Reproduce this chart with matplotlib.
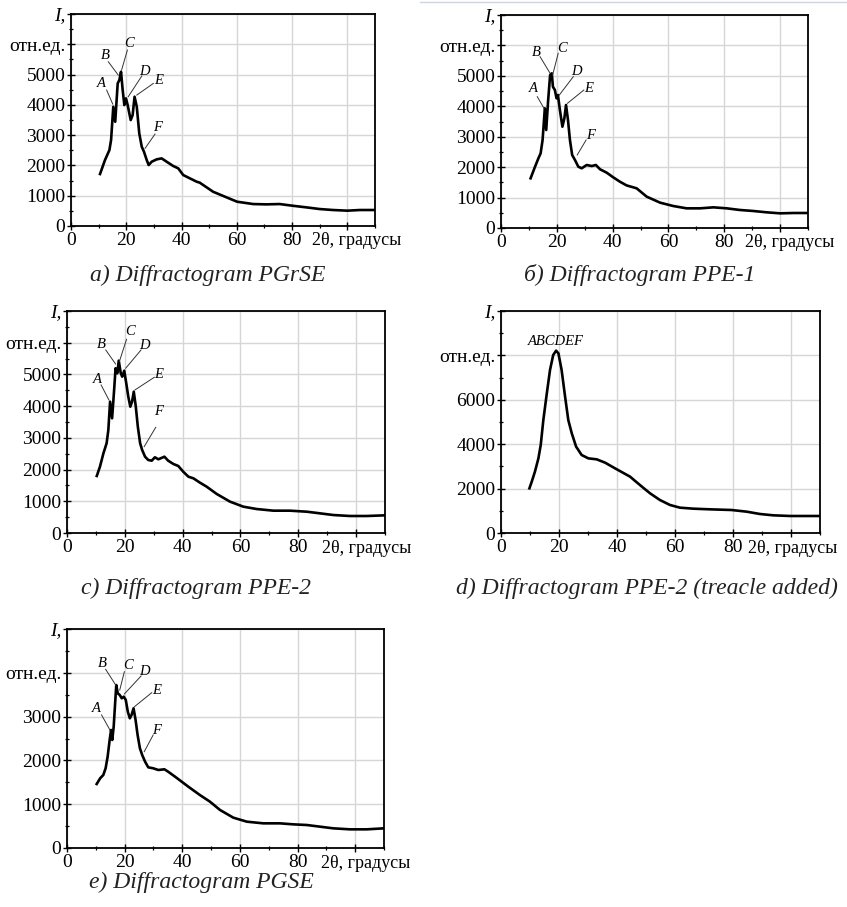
"""
Five X-ray diffractograms laid out as in the paper figure
"""

import numpy as np
import matplotlib.pyplot as plt
from matplotlib.lines import Line2D
from matplotlib.ticker import MultipleLocator
import matplotlib.transforms as mtransforms

plt.rcParams['font.family'] = ['Liberation Serif', 'DejaVu Serif']

# --- a) PGrSE ---
a_x = [10.5, 12.3, 13.9, 14.5, 15.3, 16.0, 16.9, 17.5, 18.1, 18.7, 19.3, 19.9, 20.5,
       21.6, 22.3, 23.0, 23.8, 24.7, 25.6, 26.4, 27.4, 28.1, 29.2, 31.0, 32.8, 34.6,
       37.0, 38.8, 40.6, 43.0, 45.5, 46.6, 51.4, 56.3, 60.1, 65.9, 70.7, 75.5, 80.1,
       85.2, 90.0, 94.8, 100.0, 104.5, 110.0]
a_y = [1716, 2178, 2508, 2838, 3937, 3442, 4710, 4818, 5093, 4488, 3993, 4213, 3993,
       3498, 3663, 4268, 3937, 3059, 2618, 2453, 2178, 2013, 2123, 2200, 2233, 2123,
       1980, 1904, 1683, 1574, 1462, 1430, 1132, 945, 802, 725, 714, 725, 670,
       615, 560, 528, 506, 528, 528]

# --- b) PPE-1 ---
b_x = [10.6, 12.2, 13.4, 14.2, 14.9, 15.7, 16.2, 16.9, 17.6, 18.2, 18.6, 19.3, 19.9,
       20.4, 21.1, 22.0, 22.7, 23.3, 24.0, 24.7, 25.5, 26.5, 27.7, 28.9, 30.7, 32.5,
       34.0, 35.5, 37.9, 40.2, 42.6, 45.0, 48.6, 52.2, 57.0, 61.7, 66.5, 71.3, 76.1,
       80.9, 85.6, 90.4, 95.2, 100.0, 104.8, 110.0]
b_y = [1633, 2015, 2290, 2455, 2892, 3933, 3220, 4206, 5028, 5083, 4643, 4535, 4262,
       4371, 3878, 3329, 3605, 4042, 3549, 2892, 2399, 2235, 2015, 1962, 2070, 2037,
       2070, 1929, 1817, 1666, 1522, 1400, 1304, 1030, 833, 723, 646, 646, 679,
       646, 592, 559, 515, 482, 493, 493]

# --- c) PPE-2 ---
c_x = [10.3, 11.4, 12.6, 13.7, 14.3, 14.9, 15.6, 16.3, 16.8, 17.4, 17.9, 18.6, 19.1,
       19.8, 20.5, 21.2, 21.9, 22.5, 23.1, 23.8, 24.5, 25.3, 26.0, 27.0, 28.1, 29.3,
       30.4, 31.6, 33.7, 35.0, 36.8, 38.5, 40.2, 42.0, 43.7, 46.0, 48.3, 51.8, 56.4,
       61.0, 65.6, 71.4, 77.1, 82.9, 87.5, 92.1, 97.9, 103.6, 110.0]
c_y = [1798, 2091, 2513, 2829, 3248, 4141, 3617, 4510, 5194, 5036, 5434, 5036, 4929,
       5118, 4721, 4298, 3983, 4141, 4456, 3983, 3352, 2829, 2617, 2406, 2302, 2280,
       2387, 2324, 2406, 2280, 2176, 2113, 1933, 1775, 1725, 1587, 1461, 1230, 988,
       830, 756, 704, 704, 672, 620, 567, 536, 536, 557]

# --- d) PPE-2 with treacle ---
d_x = [9.8, 10.6, 11.7, 12.9, 13.7, 14.6, 15.8, 16.9, 18.0, 19.0, 19.8, 20.9, 22.1,
       23.2, 24.4, 25.9, 27.8, 30.1, 33.0, 35.9, 39.3, 44.5, 47.9, 51.4, 54.8, 58.3,
       61.7, 66.3, 72.1, 79.5, 84.7, 89.3, 93.9, 99.7, 105.4, 110.0]
d_y = [2012, 2312, 2762, 3363, 3964, 5090, 6291, 7342, 8018, 8213, 8093, 7342, 6141,
       5090, 4491, 3890, 3514, 3363, 3318, 3168, 2914, 2538, 2162, 1787, 1486, 1261,
       1141, 1096, 1066, 1036, 961, 856, 796, 766, 766, 766]

# --- e) PGSE ---
e_x = [10.3, 11.5, 12.6, 13.4, 14.1, 14.8, 15.3, 15.7, 16.2, 16.7, 17.1, 17.6, 18.3,
       19.0, 19.7, 20.4, 21.1, 21.8, 22.4, 23.1, 23.8, 24.5, 25.3, 26.1, 27.1, 28.2,
       29.9, 31.7, 33.8, 35.1, 37.5, 39.8, 42.1, 46.1, 49.6, 53.1, 57.7, 62.4, 68.1,
       73.9, 78.5, 83.2, 87.8, 92.4, 98.2, 104.0, 110.0]
e_y = [1461, 1591, 1667, 1820, 2085, 2466, 2694, 2466, 2769, 3304, 3721, 3532, 3493,
       3418, 3455, 3379, 3112, 2961, 3037, 3189, 2922, 2580, 2276, 2123, 1970, 1842,
       1820, 1781, 1797, 1742, 1628, 1514, 1400, 1210, 1058, 868, 693, 601, 563,
       563, 540, 525, 487, 449, 426, 426, 449]

# peak labels: (letter, text x, text y, line from x, y, line to x, y)
a_peaks = [('A', 11.1, 4710, 12.9, 4488, 15.1, 4026),
           ('B', 12.3, 5643, 13.5, 5423, 17.1, 4983),
           ('C', 21.1, 6030, 20.4, 5808, 18.3, 5148),
           ('D', 26.5, 5093, 25.6, 4950, 20.7, 4268),
           ('E', 31.6, 4796, 29.8, 4708, 23.8, 4323),
           ('F', 31.4, 3257, 30.4, 3036, 26.8, 2564)]
b_peaks = [('A', 11.4, 4590, 13.0, 4316, 15.4, 3933),
           ('B', 12.5, 5761, 14.0, 5630, 17.6, 5083),
           ('C', 21.7, 5906, 20.5, 5741, 18.5, 5028),
           ('D', 27.1, 5137, 25.9, 4973, 20.9, 4371),
           ('E', 31.3, 4590, 29.7, 4535, 23.8, 4097),
           ('F', 31.9, 3056, 30.5, 2892, 27.3, 2399)]
c_peaks = [('A', 10.6, 4847, 11.8, 4667, 14.5, 4194),
           ('B', 12.0, 5929, 13.4, 5771, 16.8, 5330),
           ('C', 21.8, 6348, 20.6, 6108, 18.1, 5402),
           ('D', 26.7, 5897, 25.6, 5771, 20.3, 5194),
           ('E', 31.8, 4983, 30.2, 4910, 23.5, 4510),
           ('F', 31.8, 3825, 30.7, 3333, 26.7, 2722)]
e_peaks = [('A', 10.3, 3189, 12.0, 3037, 14.9, 2694),
           ('B', 12.2, 4216, 13.4, 4080, 16.9, 3721),
           ('C', 21.1, 4178, 19.9, 4025, 18.3, 3607),
           ('D', 26.8, 4025, 25.7, 3927, 19.9, 3516),
           ('E', 31.1, 3607, 29.4, 3546, 23.4, 3226),
           ('F', 31.1, 2694, 29.9, 2580, 26.8, 2199)]

captions = ['a) Diffractogram PGrSE', 'б) Diffractogram PPE-1', 'c) Diffractogram PPE-2',
            'd) Diffractogram PPE-2 (treacle added)', 'e) Diffractogram PGSE']


def drawPanel(ax, x, y, yTop, yStep, yMinor, peaks, nameX=103.5):
    ax.plot(x, y, color='black', lw=1.9, solid_joinstyle='round')

    ax.set_xlim(0, 110)
    ax.set_ylim(0, yTop)
    ax.set_xticks([0, 20, 40, 60, 80, 100])
    ax.set_xticklabels(['0', '20', '40', '60', '80', ''])
    ax.xaxis.set_minor_locator(MultipleLocator(10))

    # the two top y ticks carry the axis name instead of numbers
    yTicks = list(range(0, yTop + 1, yStep))
    yLabels = [str(v) for v in yTicks[:-2]] + ['отн.ед.', 'I,']
    ax.set_yticks(yTicks)
    ax.set_yticklabels(yLabels)
    ax.get_yticklabels()[-1].set_style('italic')
    ax.yaxis.set_minor_locator(MultipleLocator(yMinor))

    ax.grid(True, which='major', color='#d6d6d6', lw=1.0)
    ax.set_axisbelow(True)
    ax.tick_params(which='major', direction='inout', length=6, width=1.0,
                   labelsize=14, pad=1, colors='black')
    ax.tick_params(which='minor', direction='inout', length=3, width=0.9)
    for s in ax.spines.values():
        s.set_linewidth(1.3)

    # x axis name sits next to the last number
    trans = mtransforms.blended_transform_factory(ax.transData, ax.transAxes)
    ax.text(nameX, -0.03, '2θ, градусы', transform=trans, ha='center', va='top',
            fontsize=13, clip_on=False)

    for letter, tx, ty, x0, y0, x1, y1 in peaks:
        ax.plot([x0, x1], [y0, y1], color='#333333', lw=0.7)
        ax.text(tx, ty, letter, fontsize=10.5, style='italic', ha='center', va='center')


def main():
    fig = plt.figure(figsize=(8.47, 9.07), dpi=100)
    W, H = 847.0, 907.0

    def box(l, r, t, b):
        return [l / W, 1 - b / H, (r - l) / W, (b - t) / H]

    axA = fig.add_axes(box(71, 375, 14, 226))
    axB = fig.add_axes(box(501, 808, 15, 228))
    axC = fig.add_axes(box(67, 385, 311, 533))
    axD = fig.add_axes(box(501, 820, 311, 533))
    axE = fig.add_axes(box(67, 384, 629, 848))

    drawPanel(axA, a_x, a_y, 7000, 1000, 500, a_peaks)
    drawPanel(axB, b_x, b_y, 7000, 1000, 500, b_peaks)
    drawPanel(axC, c_x, c_y, 7000, 1000, 500, c_peaks)
    drawPanel(axD, d_x, d_y, 10000, 2000, 1000, [], nameX=100.6)
    drawPanel(axE, e_x, e_y, 5000, 1000, 500, e_peaks)
    axD.text(19.0, 8618, 'ABCDEF', fontsize=10.5, style='italic', ha='center', va='center')

    # captions under each panel
    capPos = [(208, 275), (640, 275), (196, 588), (647, 588), (201, 882)]
    for (cx, cy), txt in zip(capPos, captions):
        fig.text(cx / W, 1 - cy / H, txt, fontsize=17, style='italic',
                 ha='center', va='center', color='#222222')

    # thin page rule at the top right
    fig.add_artist(Line2D([420 / W, 1.0], [1 - 2 / H, 1 - 2 / H], color='#c8d6e6', lw=1.0))

    plt.savefig('out.png', dpi=100)


if __name__ == '__main__':
    main()
